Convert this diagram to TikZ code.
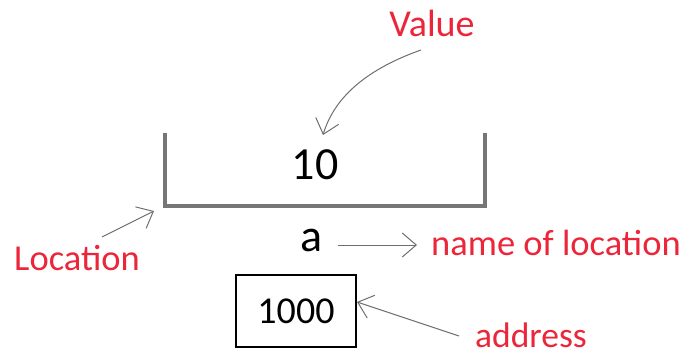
\documentclass[tikz,border=0pt]{standalone}
\usepackage{fontspec}
\setmainfont{Carlito}
\usetikzlibrary{arrows.meta}
\definecolor{lblred}{RGB}{236,38,58}
\definecolor{brgray}{RGB}{118,118,118}
\definecolor{argray}{RGB}{110,110,110}
\tikzset{
  lbl/.style={text=lblred, inner sep=0pt, text depth=0pt, font=\fontsize{36.5}{40}\selectfont},
  blk/.style={text=black, inner sep=0pt},
  barrow/.style={draw=argray, line width=1pt, -{Straight Barb[length=14pt,width=24pt,line width=1pt]}},
  bracket/.style={draw=brgray, line width=4pt, line cap=butt, line join=miter}
}
\begin{document}
\begin{tikzpicture}[x=1pt,y=-1pt]
\useasboundingbox (0,0) rectangle (689,356);
% bracket (location)
\coordinate (bl) at (165,133);
\coordinate (br) at (485,133);
\draw[bracket] (bl) |- (485,206) -- (br);
% texts
\node[lbl, font=\fontsize{38}{42}\selectfont] (value) at (432,23) {Value};
\node[blk, font=\fontsize{46}{50}\selectfont] (ten) at (315,165) {10};
\node[lbl, anchor=base] (loc) at (77,270) {Location};
\node[blk, font=\fontsize{46}{50}\selectfont] (a) at (312,240) {a};
\node[lbl, anchor=base west] (name) at (431,255) {name of location};
\node[lbl, anchor=base west, font=\fontsize{35.5}{40}\selectfont] (addr) at (475,347) {address};
\node[blk, draw=black, line width=2pt, minimum width=120pt, minimum height=72pt, font=\fontsize{38}{42}\selectfont] (box) at (296,311) {1000};
% arrows
\coordinate (vs) at (421,50);
\coordinate (vt) at (323,135);
\draw[barrow] (vs) .. controls (370,68) and (335,95) .. (vt);
\coordinate (ls) at (102,237);
\coordinate (lt) at (154,211);
\draw[barrow] (ls) -- (lt);
\coordinate (as) at (338,245);
\coordinate (at) at (417,245);
\draw[barrow] (as) -- (at);
\coordinate (ds) at (459,336);
\coordinate (dt) at (357,302);
\draw[barrow] (ds) -- (dt);
\end{tikzpicture}
\end{document}
